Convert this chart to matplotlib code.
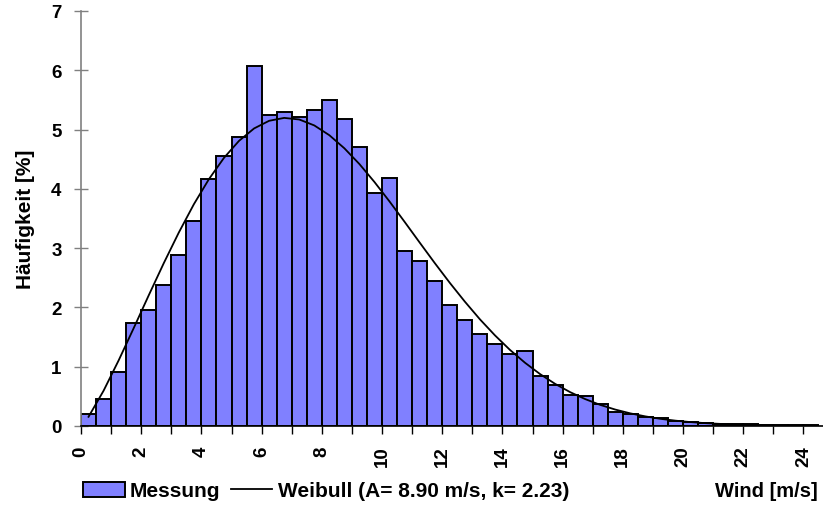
#Histogramm der Windgeschwindigkeit mit Weibull-Verteilung
import matplotlib.pyplot as plt
from matplotlib.patches import Patch
from matplotlib.lines import Line2D

plt.rcParams['font.family'] = ['Liberation Sans', 'DejaVu Sans']
plt.rcParams['font.weight'] = 'bold'

# Klassen a 0.5 m/s (linke Kante)
klassen = [i * 0.5 for i in range(49)]

# Messung, Haeufigkeit in %
messung = [0.21, 0.45, 0.91, 1.74, 1.95, 2.37, 2.89, 3.45, 4.16, 4.56,
           4.88, 6.08, 5.25, 5.30, 5.22, 5.33, 5.50, 5.18, 4.71, 3.93,
           4.18, 2.96, 2.78, 2.45, 2.04, 1.79, 1.55, 1.38, 1.21, 1.27,
           0.85, 0.70, 0.53, 0.51, 0.37, 0.24, 0.20, 0.16, 0.13, 0.09,
           0.07, 0.05, 0.04, 0.03, 0.03, 0.02, 0.02, 0.01, 0.01]

# Weibull-Kurve in Klassenmitte (A= 8.90 m/s, k= 2.23)
mitte = [k + 0.25 for k in klassen]
weibull = [0.155, 0.595, 1.106, 1.650, 2.204, 2.747, 3.264, 3.741, 4.164, 4.523,
           4.810, 5.019, 5.148, 5.197, 5.170, 5.070, 4.905, 4.684, 4.418, 4.115,
           3.787, 3.444, 3.095, 2.750, 2.416, 2.099, 1.801, 1.530, 1.284, 1.067,
           0.876, 0.711, 0.571, 0.454, 0.356, 0.277, 0.213, 0.162, 0.121, 0.090,
           0.066, 0.048, 0.035, 0.025, 0.017, 0.012, 0.008, 0.006, 0.004]

x_ticks = list(range(0, 25, 2))
y_ticks = list(range(0, 8))

fig = plt.figure(figsize=(8.23, 5.06), dpi=100)
ax = fig.add_axes([81 / 823, 1 - 427 / 506, 1 - 81 / 823, 415 / 506])

ax.bar(klassen, messung, width=0.5, align='edge', color='#8080FF',
       edgecolor='black', linewidth=1.4, zorder=2)
ax.plot(mitte, weibull, color='black', linewidth=1.3, zorder=3)

ax.set_xlim(0, 24.65)
ax.set_ylim(0, 7)

ax.set_xticks(x_ticks)
ax.set_xticks(range(0, 25), minor=True)
ax.set_xticklabels([str(t) for t in x_ticks], rotation=90, fontsize=13.5, fontweight='bold')
ax.set_yticks(y_ticks)
ax.set_yticklabels([str(t) for t in y_ticks], fontsize=13.5, fontweight='bold')

ax.tick_params(axis='x', which='both', direction='out', length=6, width=1, pad=8, color='black')
ax.tick_params(axis='y', direction='inout', length=10, width=1, pad=9, color='#808080')

for s in ['top', 'right']:
    ax.spines[s].set_visible(False)
ax.spines['left'].set_color('#808080')
ax.spines['left'].set_linewidth(1.2)
ax.spines['bottom'].set_color('black')
ax.spines['bottom'].set_linewidth(1.2)

ax.set_ylabel('Häufigkeit [%]', fontsize=15, fontweight='bold', labelpad=12)

handles = [Patch(facecolor='#8080FF', edgecolor='black', linewidth=1.4),
           Line2D([], [], color='black', linewidth=1.3)]
labels = ['Messung', 'Weibull (A= 8.90 m/s, k= 2.23)']
fig.legend(handles, labels, loc='center left', bbox_to_anchor=(83 / 823, 1 - 492 / 506),
           ncol=2, frameon=False, fontsize=15, handlelength=2.0, handletextpad=0.25,
           columnspacing=0.5, borderaxespad=0, borderpad=0)

fig.text(818 / 823, 1 - 492 / 506, 'Wind [m/s]', ha='right', va='center',
         fontsize=14.5, fontweight='bold')

plt.savefig('out.png', dpi=100)
